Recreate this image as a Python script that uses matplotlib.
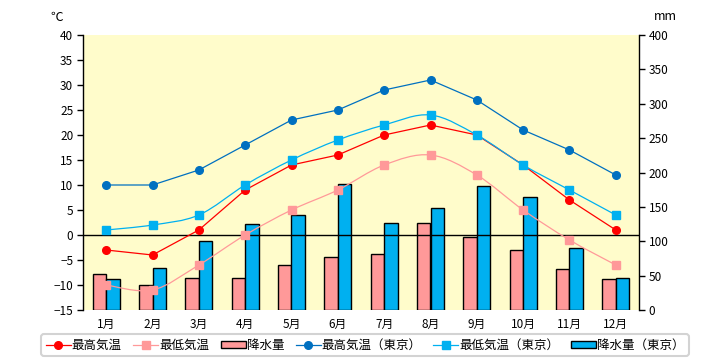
import matplotlib
matplotlib.use('Agg')
import matplotlib.pyplot as plt
from matplotlib.patches import Patch, PathPatch
from matplotlib.lines import Line2D
from matplotlib.path import Path
import numpy as np

plt.rcParams['font.family'] = ['Noto Sans CJK JP', 'DejaVu Sans']

months = ['1月', '2月', '3月', '4月', '5月', '6月', '7月', '8月', '9月', '10月', '11月', '12月']
max_temp = [-3, -4, 1, 9, 14, 16, 20, 22, 20, 14, 7, 1]
min_temp = [-10, -11, -6, 0, 5, 9, 14, 16, 12, 5, -1, -6]
precip = [53, 36, 47, 46, 65, 77, 82, 127, 106, 87, 59, 45]
max_temp_tokyo = [10, 10, 13, 18, 23, 25, 29, 31, 27, 21, 17, 12]
min_temp_tokyo = [1, 2, 4, 10, 15, 19, 22, 24, 20, 14, 9, 4]
precip_tokyo = [45, 61, 100, 125, 138, 184, 126, 148, 180, 164, 90, 46]

temp_ticks = list(range(-15, 41, 5))
precip_ticks = list(range(0, 401, 50))

labels = ['最高気温', '最低気温', '降水量', '最高気温（東京）', '最低気温（東京）', '降水量（東京）']

c_max = '#FF0000'
c_min = '#FF9999'
c_pr = '#FF9999'
c_max_t = '#0070C0'
c_min_t = '#00B0F0'
c_pr_t = '#00B0F0'


def smooth_path(xs, ys):
    pts = np.column_stack([xs, ys]).astype(float)
    n = len(pts)
    verts = [pts[0]]
    codes = [Path.MOVETO]
    for i in range(n - 1):
        p0 = pts[i - 1] if i > 0 else pts[i]
        p1 = pts[i]
        p2 = pts[i + 1]
        p3 = pts[i + 2] if i + 2 < n else pts[i + 1]
        c1 = p1 + (p2 - p0) / 6.0
        c2 = p2 - (p3 - p1) / 6.0
        verts += [c1, c2, p2]
        codes += [Path.CURVE4] * 3
    return Path(verts, codes)


fig = plt.figure(figsize=(7.2, 3.6), dpi=100)
ax = fig.add_axes([83/720, 1-310/360, (639-83)/720, 275/360])
ax2 = ax.twinx()
ax.set_zorder(ax2.get_zorder() + 1)
ax.patch.set_visible(False)
ax2.patch.set_visible(True)
ax2.set_facecolor('#FFFCCB')

x = np.arange(len(months))
w = 0.29
ax2.bar(x - w/2, precip, w, color=c_pr, edgecolor='black', linewidth=1)
ax2.bar(x + w/2, precip_tokyo, w, color=c_pr_t, edgecolor='black', linewidth=1)
ax2.set_ylim(0, 400)
ax2.set_yticks(precip_ticks)

ax.axhline(0, color='black', linewidth=1, zorder=1)
ax.plot(x, max_temp, color=c_max, marker='o', markersize=5.5, linewidth=0.9, zorder=3)
ax.add_patch(PathPatch(smooth_path(x, min_temp), fill=False, edgecolor=c_min, linewidth=0.9, zorder=3))
ax.plot(x, min_temp, color=c_min, marker='s', markersize=5.5, linestyle='none', zorder=3)
ax.plot(x, max_temp_tokyo, color=c_max_t, marker='o', markersize=5.5, linewidth=0.9, zorder=3)
ax.add_patch(PathPatch(smooth_path(x, min_temp_tokyo), fill=False, edgecolor=c_min_t, linewidth=0.9, zorder=3))
ax.plot(x, min_temp_tokyo, color=c_min_t, marker='s', markersize=5.5, linestyle='none', zorder=3)

ax.set_ylim(-15, 40)
ax.set_yticks(temp_ticks)
ax.set_xlim(-0.5, len(months) - 0.5)
ax.set_xticks(x)
ax.set_xticklabels(months)

for a in (ax, ax2):
    for s in ('top', 'bottom'):
        a.spines[s].set_visible(False)
ax.spines['right'].set_visible(False)
ax2.spines['left'].set_visible(False)
ax.spines['left'].set_linewidth(1)
ax2.spines['right'].set_linewidth(1)

ax.tick_params(axis='x', length=0, pad=6, labelsize=8.5)
ax.tick_params(axis='y', direction='out', length=4, width=1, labelsize=8.5, pad=3)
ax2.tick_params(axis='y', direction='out', length=4, width=1, labelsize=8.5, pad=3)

fig.text(57/720, 1-17/360, '℃', ha='center', va='center', fontsize=9)
fig.text(665/720, 1-17/360, 'mm', ha='center', va='center', fontsize=9)

handles = [
    Line2D([], [], color=c_max, marker='o', markersize=5.5, linewidth=0.9),
    Line2D([], [], color=c_min, marker='s', markersize=5.5, linewidth=0.9),
    Patch(facecolor=c_pr, edgecolor='black', linewidth=1),
    Line2D([], [], color=c_max_t, marker='o', markersize=5.5, linewidth=0.9),
    Line2D([], [], color=c_min_t, marker='s', markersize=5.5, linewidth=0.9),
    Patch(facecolor=c_pr_t, edgecolor='black', linewidth=1),
]
leg = fig.legend(handles, labels, loc='center', bbox_to_anchor=(365/720, 1-345/360),
                 ncol=6, frameon=True, fancybox=True, fontsize=9,
                 handlelength=2.0, handleheight=0.5, handletextpad=0.1,
                 columnspacing=0.9, borderpad=0.35, borderaxespad=0)
leg.get_frame().set_edgecolor('#C8C8C8')
leg.get_frame().set_linewidth(1.5)

fig.savefig('out.png', dpi=100)
